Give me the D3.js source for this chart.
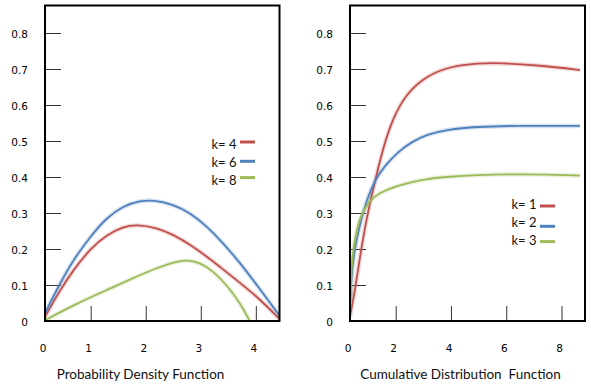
<!DOCTYPE html>
<html>
<head>
<meta charset="utf-8">
<script src="https://cdn.jsdelivr.net/npm/d3@7"></script>
<style>
  html, body { margin: 0; padding: 0; background: #fff; }
  svg { display: block; }
</style>
</head>
<body>
<div id="chart"></div>
<script>
'use strict';

// 読み取った値 [x, y]
const yTicks = [0, 0.1, 0.2, 0.3, 0.4, 0.5, 0.6, 0.7, 0.8];
const pdfTicks = [0, 1, 2, 3, 4];
const cdfTicks = [0, 2, 4, 6, 8];

const pdfLabels = ['k= 4', 'k= 6', 'k= 8'];
const pdfK4 = [[0, 0.012], [0.33, 0.086], [0.62, 0.142], [1.0, 0.202], [1.29, 0.239], [1.59, 0.262], [1.84, 0.268], [2.2, 0.259], [2.5, 0.240], [2.81, 0.212], [3.11, 0.179], [3.41, 0.143], [3.72, 0.105], [4.02, 0.068], [4.43, 0.006]];
const pdfK6 = [[0, 0.022], [0.33, 0.105], [0.62, 0.170], [1.0, 0.236], [1.29, 0.287], [1.59, 0.320], [1.9, 0.334], [2.14, 0.336], [2.5, 0.324], [2.81, 0.300], [3.11, 0.263], [3.41, 0.216], [3.72, 0.160], [4.02, 0.1], [4.43, 0.015]];
const pdfK8 = [[0, 0.002], [0.62, 0.044], [1.29, 0.086], [1.9, 0.128], [2.2, 0.147], [2.5, 0.163], [2.75, 0.170], [2.99, 0.162], [3.23, 0.138], [3.47, 0.100], [3.72, 0.049], [3.89, 0.0]];

const cdfLabels = ['k= 1', 'k= 2', 'k= 3'];
const cdfK1 = [[0, 0.012], [0.22, 0.086], [0.44, 0.179], [0.66, 0.262], [0.88, 0.33], [1.09, 0.387], [1.46, 0.484], [1.9, 0.567], [2.39, 0.632], [3.11, 0.681], [3.96, 0.707], [4.99, 0.716], [5.77, 0.717], [7.4, 0.709], [8.67, 0.697]];
const cdfK2 = [[0, 0.052], [0.07, 0.132], [0.22, 0.206], [0.44, 0.271], [0.73, 0.336], [1.09, 0.392], [1.53, 0.432], [2.09, 0.47], [2.58, 0.498], [3.18, 0.519], [3.78, 0.531], [4.99, 0.54], [6.2, 0.542], [7.4, 0.542], [8.67, 0.542]];
const cdfK3 = [[0, 0.03], [0.04, 0.1], [0.07, 0.16], [0.22, 0.234], [0.44, 0.29], [0.8, 0.331], [1.24, 0.355], [1.97, 0.374], [2.58, 0.386], [3.06, 0.394], [3.78, 0.400], [4.99, 0.406], [6.2, 0.408], [7.4, 0.407], [8.67, 0.404]];

const colors = ['#c0504d', '#4f81bd', '#9bbb59'];

const width = 591;
const height = 387;
const plotTop = 5.5;
const plotBottom = 321;

const svg = d3.select('#chart')
    .append('svg')
    .attr('width', width)
    .attr('height', height)
    .attr('viewBox', `0 0 ${width} ${height}`);
svg.append('rect').attr('width', width).attr('height', height).attr('fill', '#fff');

const y = d3.scaleLinear().domain([0, 0.8]).range([plotBottom, 33]);

// 元の図は原点付近だけ目盛り間隔が詰まっているので折れ線スケールにする
const panels = [
    {
        left: 45, right: 279.5,
        xDomain: [0, 1, 4.43], xRange: [45, 90.7, 279.5],
        ticks: pdfTicks, series: [pdfK4, pdfK6, pdfK8], labels: pdfLabels,
        legendX: 211.5, legendY: 144, legendDy: [-2, -1, -3],
        title: 'Probability Density Function', titleX: 140.5
    },
    {
        left: 350, right: 585,
        xDomain: [0, 2, 8.85], xRange: [350, 395.7, 585],
        ticks: cdfTicks, series: [cdfK1, cdfK2, cdfK3], labels: cdfLabels,
        legendX: 511.5, legendY: 204, legendDy: [2, 4, 1],
        title: 'Cumulative Distribution  Function', titleX: 460.5
    }
];

panels.forEach((p, pi) => {
    const x = d3.scaleLinear().domain(p.xDomain).range(p.xRange);
    const g = svg.append('g').attr('class', 'panel');

    const clipId = 'clip' + pi;
    svg.append('clipPath').attr('id', clipId)
        .append('rect')
        .attr('x', p.left).attr('y', plotTop)
        .attr('width', p.right - p.left).attr('height', plotBottom - plotTop);

    // 軸
    const xAxis = g.append('g')
        .attr('transform', `translate(0,${plotBottom})`)
        .call(d3.axisBottom(x).tickValues(p.ticks).tickSizeInner(-15).tickSizeOuter(0).tickPadding(24)
            .tickFormat(d3.format('d')));
    const yAxis = g.append('g')
        .attr('transform', `translate(${p.left},0)`)
        .call(d3.axisLeft(y).tickValues(yTicks).tickSizeInner(-16).tickSizeOuter(0).tickPadding(17)
            .tickFormat(d => d === 0 ? '0' : d3.format('.1f')(d)));
    [xAxis, yAxis].forEach(a => {
        a.select('.domain').remove();
        a.selectAll('.tick line').filter(d => d === 0).remove();
        a.selectAll('.tick line').attr('stroke', '#333').attr('stroke-width', 1);
        a.selectAll('.tick text')
            .attr('fill', '#000')
            .style('font-family', '"DejaVu Sans", Verdana, sans-serif')
            .style('font-size', '10.5px');
    });
    xAxis.selectAll('.tick text').attr('dx', -2.5);
    yAxis.selectAll('.tick text').attr('y', 1.5);

    // 曲線
    const line = d3.line()
        .x(d => x(d[0]))
        .y(d => y(d[1]))
        .curve(d3.curveBasis);
    const curves = g.append('g').attr('clip-path', `url(#${clipId})`);
    p.series.forEach((s, i) => {
        curves.append('path')
            .attr('d', line(s))
            .attr('fill', 'none')
            .attr('stroke', colors[i])
            .attr('stroke-opacity', 0.22)
            .attr('stroke-width', 4.5);
        curves.append('path')
            .attr('d', line(s))
            .attr('fill', 'none')
            .attr('stroke', colors[i])
            .attr('stroke-width', 1.8);
    });

    // 枠
    g.append('rect')
        .attr('x', p.left).attr('y', plotTop)
        .attr('width', p.right - p.left).attr('height', plotBottom - plotTop)
        .attr('fill', 'none')
        .attr('stroke', '#000')
        .attr('stroke-width', 2);

    // 凡例
    const legend = g.append('g');
    p.labels.forEach((label, i) => {
        const ly = p.legendY + i * 18.3;
        legend.append('text')
            .attr('x', p.legendX)
            .attr('y', ly)
            .attr('dy', '0.35em')
            .style('font-family', 'Lato, "Open Sans", sans-serif')
            .style('font-size', '13px')
            .attr('fill', '#111')
            .text(label);
        legend.append('line')
            .attr('x1', p.legendX + 28.5).attr('x2', p.legendX + 43.5)
            .attr('y1', ly + p.legendDy[i]).attr('y2', ly + p.legendDy[i])
            .attr('stroke', colors[i])
            .attr('stroke-width', 3);
    });

    // タイトル
    g.append('text')
        .attr('x', p.titleX)
        .attr('y', 374)
        .attr('dy', '0.35em')
        .attr('text-anchor', 'middle')
        .style('font-family', 'Lato, "Open Sans", sans-serif')
        .style('font-size', '13.5px')
        .style('white-space', 'pre')
        .attr('fill', '#111')
        .text(p.title);
});
</script>
</body>
</html>
